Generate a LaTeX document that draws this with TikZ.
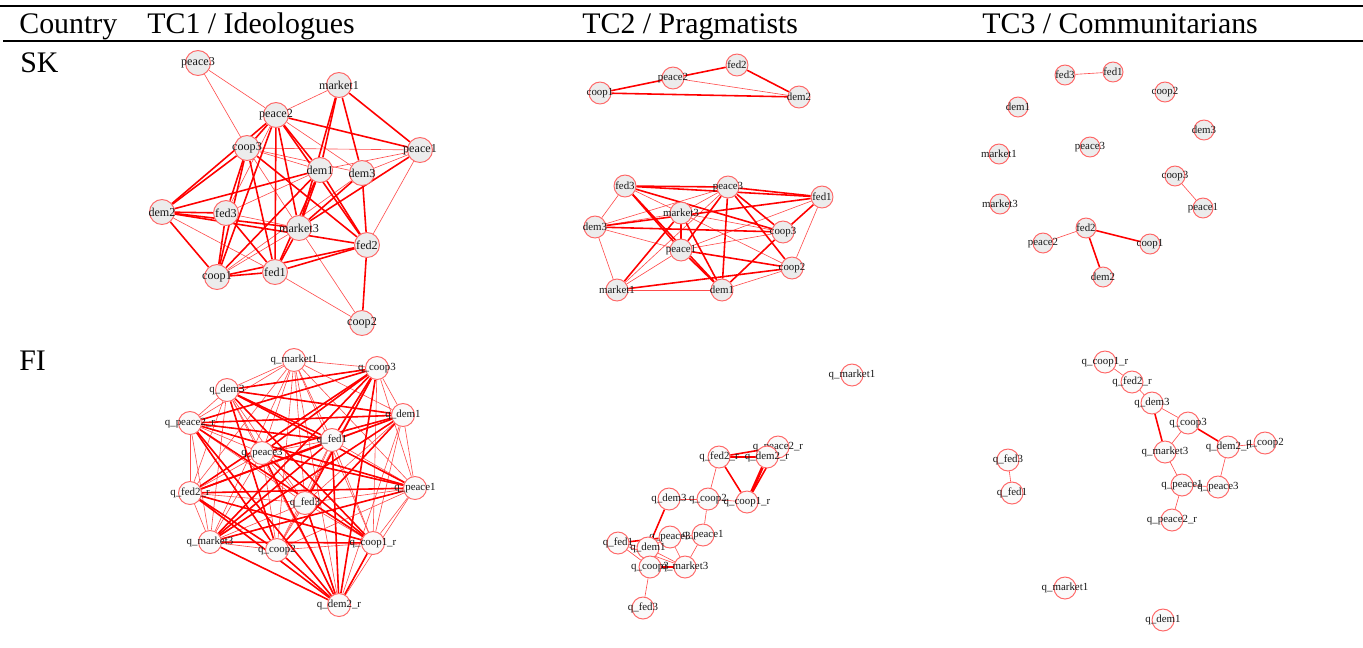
\documentclass[tikz,border=0pt]{standalone}
\usepackage{fontspec}
\setmainfont{Liberation Serif}
\usetikzlibrary{backgrounds}

\begin{document}
\begin{tikzpicture}[x=0.02cm, y=-0.02cm,
    head/.style={anchor=base west, inner sep=0pt, font=\fontsize{17}{20}\selectfont},
    vtx/.style={circle, draw=red!60, fill=gray!15, line width=0.55pt, inner sep=0pt, minimum size=0.44cm},
    qvtx/.style={vtx, fill=gray!4},
    lbl/.style={font=\fontsize{6.2}{7}\selectfont, text=black!90, inner sep=0pt},
    biglbl/.style={lbl, font=\fontsize{6.9}{8}\selectfont},
    strong/.style={red, line width=0.9pt},
    weak/.style={red!70, line width=0.35pt}]

  \useasboundingbox (0,0) rectangle (1363,647);
  \draw[line width=1.1pt] (0,6) -- (1363,6);
  \draw[line width=0.6pt] (3,41) -- (1363,41);

  \node[head] (country) at (19,33) {Country};
  \node[head] (tc1) at (147,33) {TC1 / Ideologues};
  \node[head] (tc2) at (582,33) {TC2 / Pragmatists};
  \node[head] (tc3) at (982,33) {TC3 / Communitarians};
  \node[head] (sk) at (20,72) {SK};
  \node[head] (fi) at (19,370) {FI};

  % SK, TC1
  \foreach \n/\x/\y in {peace3/198/63, market1/339/85, peace2/276/115, coop3/247/148,
      peace1/420/150, dem1/320/170, dem3/362/173, dem2/162/212, fed3/226/213,
      market3/299/228, fed2/367/245, coop1/217/277, fed1/275/272, coop2/362/323}
    \node[vtx, minimum size=0.5cm, label={[biglbl]center:\n}] (a\n) at (\x,\y) {};

  % SK, TC2
  \foreach \n/\x/\y in {fed2/737/65, peace2/673/78, coop1/600/93, dem2/799/97,
      fed3/625/186, peace3/728/187, fed1/822/197, market3/681/213, dem3/595/227,
      coop3/783/232, peace1/681/250, coop2/792/268, market1/617/290, dem1/722/290}
    \node[vtx, label={[lbl]center:\n}] (b\n) at (\x,\y) {};

  % SK, TC3
  \foreach \n/\x/\y in {fed3/1065/75, fed1/1113/72, coop2/1165/92, dem1/1018/107,
      dem3/1204/130, peace3/1090/147, market1/999/154, coop3/1175/176,
      market3/1000/204, peace1/1203/208, fed2/1086/228, peace2/1043/243,
      coop1/1150/244, dem2/1103/277}
    \node[vtx, minimum size=0.4cm, label={[lbl]center:\n}] (c\n) at (\x,\y) {};

  % FI, TC1
  \foreach \n/\lab/\x/\y in {qmarket1/q\_market1/294/360, qcoop3/q\_coop3/377/368,
      qdem3/q\_dem3/227/390, qdem1/q\_dem1/403/415, qpeace2r/q\_peace2\_r/190/423,
      qfed1/q\_fed1/332/440, qpeace3/q\_peace3/262/453, qfed2r/q\_fed2\_r/190/493,
      qpeace1/q\_peace1/415/488, qfed3/q\_fed3/305/503, qmarket3/q\_market3/210/542,
      qcoop2/q\_coop2/277/550, qcoop1r/q\_coop1\_r/373/543, qdem2r/q\_dem2\_r/339/605}
    \node[qvtx, minimum size=0.46cm, label={[lbl]center:\lab}] (d\n) at (\x,\y) {};

  % FI, TC2
  \foreach \n/\lab/\x/\y in {qmarket1/q\_market1/852/375, qpeace2r/q\_peace2\_r/778/447,
      qfed2r/q\_fed2\_r/719/457, qdem2r/q\_dem2\_r/767/457, qdem3/q\_dem3/669/499,
      qcoop2/q\_coop2/708/499, qcoop1r/q\_coop1\_r/747/502, qpeace3/q\_peace3/670/537,
      qpeace1/q\_peace1/703/535, qfed1/q\_fed1/618/543, qdem1/q\_dem1/648/548,
      qcoop3/q\_coop3/650/567, qmarket3/q\_market3/685/567, qfed3/q\_fed3/643/608}
    \node[qvtx, label={[lbl]center:\lab}] (e\n) at (\x,\y) {};

  % FI, TC3
  \foreach \n/\lab/\x/\y in {qcoop1r/q\_coop1\_r/1105/362, qfed2r/q\_fed2\_r/1132/382,
      qdem3/q\_dem3/1152/403, qcoop3/q\_coop3/1188/423, qmarket3/q\_market3/1165/452,
      qdem2r/q\_dem2\_r/1228/447, qcoop2/q\_coop2/1265/443, qpeace1/q\_peace1/1182/485,
      qpeace3/q\_peace3/1218/487, qpeace2r/q\_peace2\_r/1172/520, qfed3/q\_fed3/1008/460,
      qfed1/q\_fed1/1012/493, qmarket1/q\_market1/1065/588, qdem1/q\_dem1/1163/620}
    \node[qvtx, label={[lbl]center:\lab}] (f\n) at (\x,\y) {};

  \begin{scope}[on background layer]
    \foreach \u/\v in {peace3/peace2, peace3/coop3, market1/peace2, peace2/dem3, coop3/dem1,
        coop3/dem3, coop3/market3, dem1/peace1, dem1/fed3, dem3/peace1, peace1/fed2,
        dem2/fed1, fed3/market3, market3/coop2, fed1/coop2, market3/coop1, dem3/coop1,
        peace2/fed3, coop3/peace1}
      \draw[weak] (a\u) -- (a\v);
    \foreach \u/\v in {market1/dem1, market1/market3, market1/peace1, peace2/peace1,
        peace2/coop3, peace2/dem2, peace2/dem1, peace2/fed2, peace2/fed1, peace2/market3,
        peace2/coop1, coop3/dem2, coop3/fed2, coop3/fed1, coop3/coop1, dem1/dem2,
        dem1/coop1, dem1/market3, dem1/fed1, dem1/fed2, dem3/fed2, dem3/market3,
        peace1/market3, dem2/fed3, dem2/market3, dem2/fed2, dem2/coop1, fed3/fed1,
        market3/fed1, fed2/fed1, fed2/coop1, fed2/coop2, fed1/coop1, coop3/fed3,
        fed3/coop1, market1/dem3}
      \draw[strong] (a\u) -- (a\v);

    \foreach \u/\v in {peace2/dem2, fed3/market3, fed3/dem3, peace3/dem3, peace3/market3,
        fed1/coop2, fed1/peace1, market3/dem3, market3/coop3, market3/coop2, dem3/peace1,
        dem3/market1, peace1/market1, peace1/coop3, coop2/dem1, market1/dem1, peace3/market1}
      \draw[weak] (b\u) -- (b\v);
    \foreach \u/\v in {coop1/peace2, peace2/fed2, fed2/dem2, coop1/dem2, fed3/peace3,
        fed3/fed1, fed3/peace1, fed3/coop3, peace3/fed1, peace3/peace1, peace3/coop3,
        peace3/coop2, peace3/dem1, fed1/dem3, fed1/coop3, market3/dem1, market3/market1,
        market3/peace1, dem3/coop3, peace1/coop2, peace1/dem1, coop3/dem1, coop2/market1,
        fed3/dem1}
      \draw[strong] (b\u) -- (b\v);

    \foreach \u/\v in {fed3/fed1, coop3/peace1, fed2/peace2}
      \draw[weak] (c\u) -- (c\v);
    \foreach \u/\v in {fed2/coop1, fed2/dem2}
      \draw[strong] (c\u) -- (c\v);

    \foreach \u [count=\i] in {qmarket1, qcoop3, qdem3, qdem1, qpeace2r, qfed1, qpeace3,
        qfed2r, qpeace1, qfed3, qmarket3, qcoop2, qcoop1r, qdem2r}
      \foreach \v [count=\j] in {qmarket1, qcoop3, qdem3, qdem1, qpeace2r, qfed1, qpeace3,
          qfed2r, qpeace1, qfed3, qmarket3, qcoop2, qcoop1r, qdem2r}
        {\ifnum\i<\j \draw[weak] (d\u) -- (d\v); \fi}
    \foreach \u/\v in {qcoop3/qdem3, qcoop3/qpeace2r, qcoop3/qfed1, qcoop3/qfed2r,
        qcoop3/qmarket3, qcoop3/qdem2r, qcoop3/qpeace3, qcoop3/qfed3, qdem3/qfed1,
        qdem3/qdem1, qdem3/qpeace1, qdem3/qcoop1r, qdem3/qcoop2, qpeace2r/qdem1,
        qpeace2r/qpeace1, qpeace2r/qcoop1r, qpeace2r/qdem2r, qpeace2r/qfed1,
        qpeace2r/qcoop2, qdem1/qfed2r, qdem1/qmarket3, qdem1/qpeace3, qdem1/qcoop2,
        qfed1/qfed2r, qfed1/qmarket3, qfed1/qdem2r, qpeace3/qpeace1, qpeace3/qdem2r,
        qpeace3/qcoop1r, qfed2r/qpeace1, qfed2r/qcoop1r, qfed2r/qdem2r, qfed2r/qcoop2,
        qpeace1/qmarket3, qfed3/qdem2r, qmarket3/qdem2r, qmarket3/qcoop1r,
        qcoop2/qdem2r, qcoop1r/qdem2r}
      \draw[strong] (d\u) -- (d\v);

    \foreach \u/\v in {qfed2r/qcoop2, qdem3/qcoop2, qcoop2/qcoop1r, qcoop2/qpeace1,
        qpeace3/qpeace1, qfed1/qdem1, qfed1/qcoop3, qdem1/qmarket3, qpeace3/qmarket3,
        qpeace1/qmarket3, qcoop3/qfed3, qdem1/qpeace3, qfed1/qmarket3, qdem1/qcoop3}
      \draw[weak] (e\u) -- (e\v);
    \foreach \u/\v in {qfed2r/qpeace2r, qfed2r/qcoop1r, qdem3/qdem1, qfed1/qpeace3,
        qcoop3/qmarket3, qpeace2r/qcoop1r}
      \draw[strong] (e\u) -- (e\v);
    \foreach \u/\v in {qfed2r/qdem2r, qdem2r/qcoop1r}
      \draw[strong, line width=1.6pt] (e\u) -- (e\v);

    \foreach \u/\v in {qcoop1r/qfed2r, qfed2r/qdem3, qdem3/qcoop3, qcoop3/qmarket3,
        qdem2r/qpeace3, qmarket3/qpeace1, qpeace1/qpeace2r, qfed3/qfed1, qpeace1/qpeace3,
        qdem2r/qcoop2}
      \draw[weak] (f\u) -- (f\v);
    \foreach \u/\v in {qdem3/qmarket3, qcoop3/qdem2r}
      \draw[strong] (f\u) -- (f\v);
  \end{scope}
\end{tikzpicture}
\end{document}
